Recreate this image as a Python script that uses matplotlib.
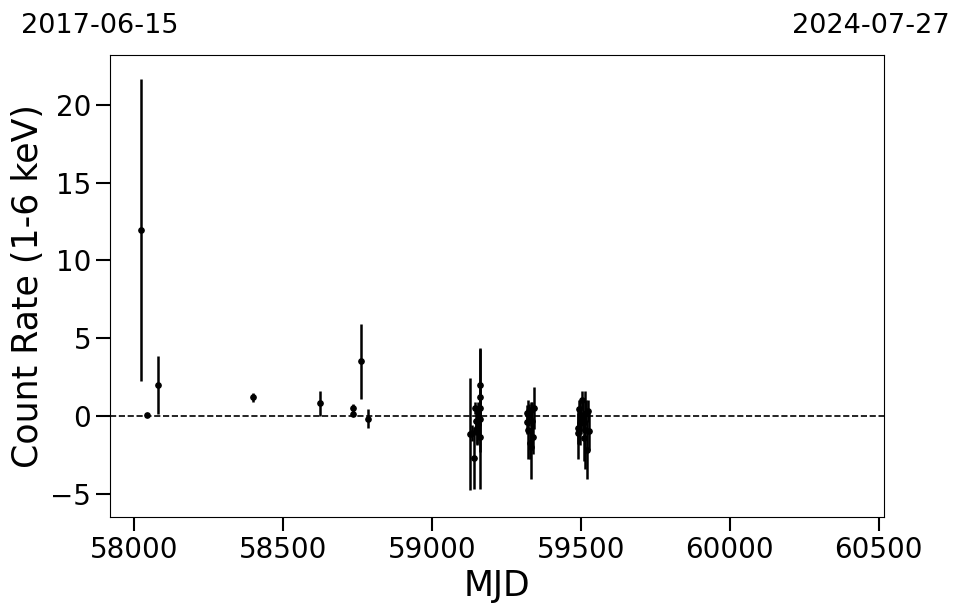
import matplotlib
matplotlib.use("Agg")
import matplotlib.pyplot as plt
import numpy as np

mjd = [58024, 58044, 58081, 58400, 58624, 58736, 58736, 58763, 58786,
       59128, 59134, 59141, 59146, 59148, 59150, 59152, 59154, 59156, 59160, 59161, 59162, 59162, 59163,
       59318, 59320, 59322, 59325, 59328, 59331, 59333, 59336, 59340, 59343,
       59489, 59492, 59495, 59498, 59502, 59505, 59507, 59510, 59514, 59518, 59521, 59524, 59527]
rate = [11.93, 0.05, 1.97, 1.2, 0.81, 0.49, 0.13, 3.5, -0.17,
        -1.16, -1.1, -2.72, 0.5, -0.3, -0.8, -1.0, 0.3, -0.5, 2.0, 1.24, 0.5, -0.2, -1.33,
        0.2, -0.37, -0.9, 0.06, -1.76, 0.4, -1.97, -0.3, -1.33, 0.5,
        -0.8, -1.1, 0.43, -0.47, -0.26, 1.03, 0.06, -1.43, -0.9, 0.2, -2.18, 0.3, -1.0]
err = [9.7, 0.15, 1.85, 0.3, 0.8, 0.3, 0.15, 2.4, 0.62,
       3.6, 0.5, 2.0, 0.4, 0.9, 1.1, 0.8, 0.6, 1.0, 2.35, 0.5, 0.8, 4.5, 1.0,
       0.5, 0.8, 1.9, 0.7, 1.0, 0.5, 2.1, 1.2, 1.1, 1.35,
       1.0, 1.7, 0.6, 1.4, 0.9, 0.6, 1.0, 1.5, 2.5, 0.8, 1.9, 0.7, 1.2]

date_start = "2017-06-15"
date_end = "2024-07-27"
xlim = (57919, 60518)

fig = plt.figure(figsize=(9.62, 6.13), dpi=100)
ax = fig.add_axes([0.1143, 0.1566, 0.8047, 0.7537])

ax.errorbar(mjd, rate, yerr=err, fmt='o', color='black', ecolor='black',
            markersize=3.8, elinewidth=1.8, capsize=0)
ax.axhline(0, color='black', linestyle='--', linewidth=1.2)

ax.set_xlim(*xlim)
ax.set_ylim(-6.5, 23.2)
ax.set_xticks([58000, 58500, 59000, 59500, 60000, 60500])
ax.set_yticks([-5, 0, 5, 10, 15, 20])
ax.tick_params(axis='both', labelsize=20, length=10, width=1.5, direction='out')
ax.set_xlabel("MJD", fontsize=25)
ax.set_ylabel("Count Rate (1-6 keV)", fontsize=25)

ax.text(-0.013, 1.035, date_start, transform=ax.transAxes, ha='center', va='bottom', fontsize=19.5)
ax.text(0.983, 1.035, date_end, transform=ax.transAxes, ha='center', va='bottom', fontsize=19.5)

fig.savefig("out.png", dpi=100)
